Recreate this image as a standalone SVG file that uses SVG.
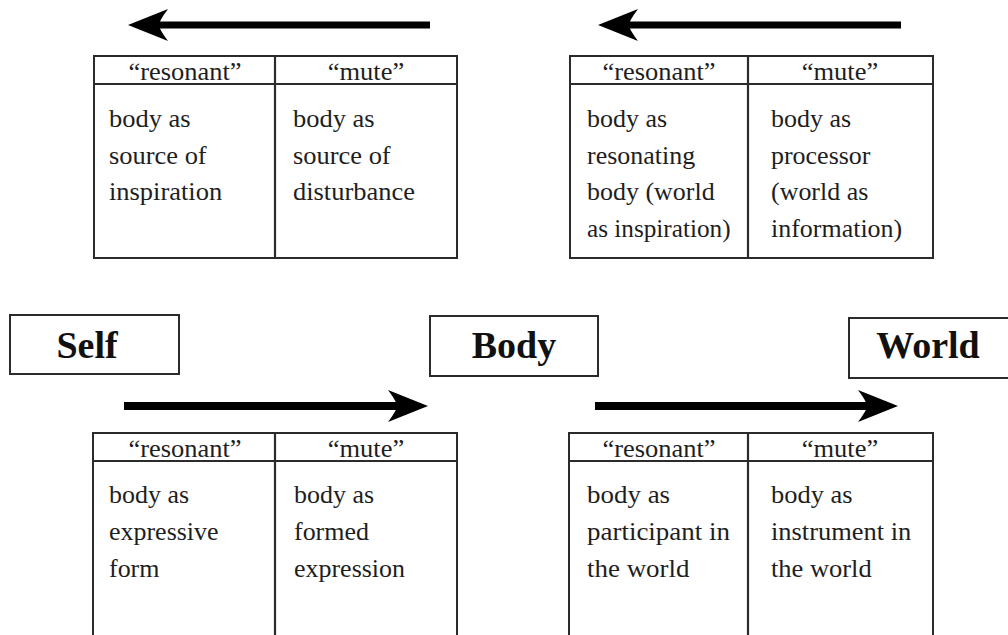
<svg xmlns="http://www.w3.org/2000/svg" width="1008" height="635" viewBox="0 0 1008 635">
<style>
.tbl{fill:#fff;stroke:#2b2b2b;stroke-width:2}
.sep{stroke:#2b2b2b;stroke-width:2.2}
.box{fill:#fff;stroke:#2b2b2b;stroke-width:2}
.arr{stroke:#000;fill:none}
</style>
<defs>
<marker id="ah" markerUnits="userSpaceOnUse" markerWidth="40" markerHeight="32" viewBox="0 0 40 32" refX="11" refY="16" orient="auto">
<path d="M40,16 L0,0 Q9,12 9,16 Q9,20 0,32 Z" fill="#000"/>
</marker>
</defs>
<rect width="1008" height="635" fill="#fff"/>

<g id="connectors">
<line class="arr" x1="430" y1="25" x2="157" y2="25" stroke-width="7" marker-end="url(#ah)"/>
<line class="arr" x1="901" y1="25" x2="627" y2="25" stroke-width="7" marker-end="url(#ah)"/>
<line class="arr" x1="124" y1="406" x2="399" y2="406" stroke-width="8" marker-end="url(#ah)"/>
<line class="arr" x1="595" y1="406" x2="869" y2="406" stroke-width="8" marker-end="url(#ah)"/>
</g>

<g font-family="'Liberation Serif', 'Times New Roman', serif" font-weight="bold" font-size="38" fill="#111" text-anchor="middle">
<g id="self">
<rect class="box" x="10" y="315" width="169" height="59"/>
<text x="87" y="358">Self</text>
</g>
<g id="body">
<rect class="box" x="430" y="316" width="168" height="60"/>
<text x="514" y="358">Body</text>
</g>
<g id="world">
<rect class="box" x="849" y="318" width="170" height="60"/>
<text x="928" y="358">World</text>
</g>
</g>

<g font-family="'Liberation Serif', 'Times New Roman', serif" font-weight="normal" font-style="normal" font-size="24.5" fill="#1e1e1e">
<g id="table-top-left">
<rect class="tbl" x="94" y="56" width="363" height="202"/>
<line class="sep" x1="94" y1="84" x2="457" y2="84"/>
<line class="sep" x1="275" y1="56" x2="275" y2="258"/>
<text text-anchor="middle" transform="translate(185,80) scale(1.08,1)">“resonant”</text>
<text text-anchor="middle" transform="translate(366,80) scale(1.08,1)">“mute”</text>
<text transform="translate(109,127) scale(1.08,1)">body as</text>
<text transform="translate(109,164) scale(1.08,1)">source of</text>
<text transform="translate(109,200) scale(1.08,1)">inspiration</text>
<text transform="translate(293,127) scale(1.08,1)">body as</text>
<text transform="translate(293,164) scale(1.08,1)">source of</text>
<text transform="translate(293,200) scale(1.08,1)">disturbance</text>
</g>

<g id="table-top-right">
<rect class="tbl" x="570" y="56" width="363" height="202"/>
<line class="sep" x1="570" y1="84" x2="933" y2="84"/>
<line class="sep" x1="748" y1="56" x2="748" y2="258"/>
<text text-anchor="middle" transform="translate(659,80) scale(1.08,1)">“resonant”</text>
<text text-anchor="middle" transform="translate(840,80) scale(1.08,1)">“mute”</text>
<text transform="translate(587,127) scale(1.06,1)">body as</text>
<text transform="translate(587,164) scale(1.06,1)">resonating</text>
<text transform="translate(587,200) scale(1.06,1)">body (world</text>
<text transform="translate(587,237) scale(1.03,1)">as inspiration)</text>
<text transform="translate(771,127) scale(1.06,1)">body as</text>
<text transform="translate(771,164) scale(1.06,1)">processor</text>
<text transform="translate(771,200) scale(1.06,1)">(world as</text>
<text transform="translate(771,237) scale(1.06,1)">information)</text>
</g>

<g id="table-bottom-left">
<rect class="tbl" x="93" y="433" width="364" height="220"/>
<line class="sep" x1="93" y1="461" x2="457" y2="461"/>
<line class="sep" x1="275" y1="433" x2="275" y2="653"/>
<text text-anchor="middle" transform="translate(185,457) scale(1.08,1)">“resonant”</text>
<text text-anchor="middle" transform="translate(366,457) scale(1.08,1)">“mute”</text>
<text transform="translate(109,503) scale(1.06,1)">body as</text>
<text transform="translate(109,540) scale(1.06,1)">expressive</text>
<text transform="translate(109,577) scale(1.06,1)">form</text>
<text transform="translate(294,503) scale(1.06,1)">body as</text>
<text transform="translate(294,540) scale(1.06,1)">formed</text>
<text transform="translate(294,577) scale(1.06,1)">expression</text>
</g>

<g id="table-bottom-right">
<rect class="tbl" x="569" y="433" width="364" height="220"/>
<line class="sep" x1="569" y1="461" x2="933" y2="461"/>
<line class="sep" x1="748" y1="433" x2="748" y2="653"/>
<text text-anchor="middle" transform="translate(659,457) scale(1.08,1)">“resonant”</text>
<text text-anchor="middle" transform="translate(840,457) scale(1.08,1)">“mute”</text>
<text transform="translate(587,503) scale(1.1,1)">body as</text>
<text transform="translate(587,540) scale(1.1,1)">participant in</text>
<text transform="translate(587,577) scale(1.1,1)">the world</text>
<text transform="translate(771,503) scale(1.08,1)">body as</text>
<text transform="translate(771,540) scale(1.08,1)">instrument in</text>
<text transform="translate(771,577) scale(1.08,1)">the world</text>
</g>
</g>
</svg>
